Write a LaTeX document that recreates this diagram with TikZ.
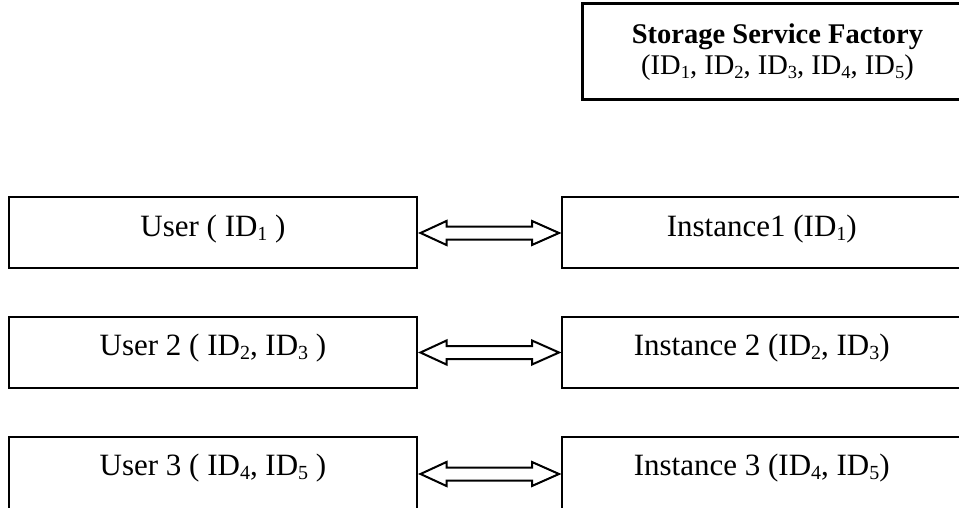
\documentclass[tikz,border=0pt]{standalone}
\usepackage{fontspec}
\setmainfont{Liberation Serif}
\usetikzlibrary{calc}
\newcommand\myidx[1]{\raisebox{-0.14em}{\fontsize{20}{20}\selectfont #1}}
\newcommand\myfidx[1]{\raisebox{-0.14em}{\fontsize{18.5}{18.5}\selectfont #1}}
\begin{document}
\begin{tikzpicture}[x=1pt,y=-1pt,
  box/.style={draw,line width=2pt,rectangle,inner sep=0pt,minimum width=#1,
    minimum height=71pt,text height=20pt,text depth=13pt,
    font=\fontsize{31}{35}\selectfont},
  lowbox/.style={box=#1,minimum height=74pt,text height=17pt},
  factory/.style={draw,line width=3pt,rectangle,inner sep=0pt,minimum width=391pt,
    minimum height=95.5pt,align=center,font=\fontsize{28.5}{31}\selectfont},
  dblarr/.style={draw,fill=white,line width=2pt,line join=miter}]
\useasboundingbox (0,0) rectangle (959,508);
\clip (0,0) rectangle (959,508);
\node[factory] (fac) at (777.5,51.75) {\textbf{Storage Service Factory}\\(ID\myfidx{1}, ID\myfidx{2}, ID\myfidx{3}, ID\myfidx{4}, ID\myfidx{5})};
\node[box=408pt] (u1) at (213,232.5) {User ( ID\myidx{1} )};
\node[box=400.5pt] (i1) at (761.75,232.5) {Instance1 (ID\myidx{1})};
\node[box=408pt] (u2) at (213,352) {User 2 ( ID\myidx{2}, ID\myidx{3} )};
\node[box=400.5pt] (i2) at (761.75,352) {Instance 2 (ID\myidx{2}, ID\myidx{3})};
\node[lowbox=408pt] (u3) at (213,473.5) {User 3 ( ID\myidx{4}, ID\myidx{5} )};
\node[lowbox=400.5pt] (i3) at (761.75,473.5) {Instance 3 (ID\myidx{4}, ID\myidx{5})};
\foreach \r in {1,2,3} {
  \draw[dblarr] ($(u\r.east)+(2.5,0.5)$) -- ($(u\r.east)+(28.5,-11.5)$) -- ($(u\r.east)+(28.5,-6)$)
    -- ($(i\r.west)+(-28.5,-6)$) -- ($(i\r.west)+(-28.5,-11.5)$) -- ($(i\r.west)+(-1.5,0.5)$)
    -- ($(i\r.west)+(-28.5,12.5)$) -- ($(i\r.west)+(-28.5,7)$) -- ($(u\r.east)+(28.5,7)$)
    -- ($(u\r.east)+(28.5,12.5)$) -- cycle;
}
\end{tikzpicture}
\end{document}
